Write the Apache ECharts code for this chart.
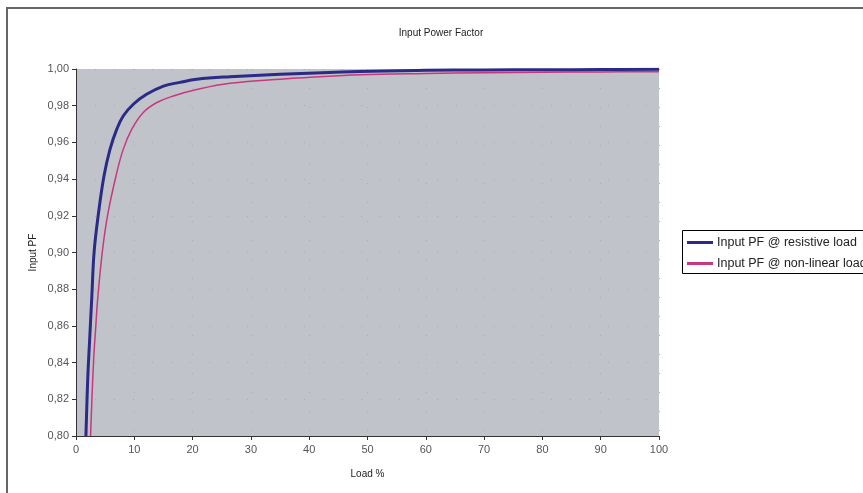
<!DOCTYPE html>
<html><head><meta charset="utf-8">
<script src="https://cdn.jsdelivr.net/npm/echarts@6/dist/echarts.min.js"></script>
<style>html,body{margin:0;padding:0;background:#fff}#c{width:863px;height:493px}</style>
</head><body><div id="c"></div>
<script>
const title = "Input Power Factor";
const xName = "Load %";
const yName = "Input PF";
const seriesNames = ["Input PF @ resistive load", "Input PF @ non-linear load"];
const resistiveLoad = [1.7,2.0,2.3,2.7,3.1,3.8,4.8,5.83,6.98,8.1,9.83,12.1,15,17.8,20.7,26.4,35,48.7,60,70,80,90,100];
const resistivePF   = [0.80,0.83,0.85,0.875,0.90,0.92,0.9417,0.9562,0.9671,0.9744,0.9808,0.9862,0.9907,0.9927,0.9944,0.9958,0.9972,0.9987,0.9993,0.9995,0.9996,0.9997,0.9998];
const nonlinLoad = [2.5,3.0,3.4,3.7,4.5,5.4,6.86,8.1,9.55,11.5,13.8,16.7,20.7,26.4,35,48.7,60,70,80,90,100];
const nonlinPF   = [0.80,0.84,0.86,0.874,0.90,0.92,0.9417,0.9562,0.9671,0.9762,0.9816,0.9853,0.9888,0.9922,0.9944,0.9968,0.9976,0.998,0.9982,0.9984,0.9985];
const xTicks = [0,10,20,30,40,50,60,70,80,90,100];

const zip = (a,b)=>a.map((v,i)=>[v,b[i]]);
const chart = echarts.init(document.getElementById('c'));
chart.setOption({
  animation:false,
  backgroundColor:'#fff',
  textStyle:{fontFamily:'Liberation Sans, Arial, sans-serif'},
  title:{text:title,left:436,textAlign:'center',top:23,textStyle:{fontSize:10,fontWeight:'normal',color:'#222'}},
  graphic:[
    {type:'rect',shape:{x:7,y:8,width:900,height:520},style:{fill:'none',stroke:'#666',lineWidth:2},z:-1},
    {type:'rect',shape:{x:682.5,y:230.5,width:220,height:43},style:{fill:'#fff',stroke:'#000',lineWidth:1},z:0}
  ],
  legend:{left:687,top:236,padding:0,orient:'vertical',itemGap:8,itemWidth:26,itemHeight:3,
    textStyle:{fontSize:12.5,color:'#222',padding:[0,0,0,-1]},
    data:seriesNames.map(n=>({name:n,icon:'rect'})),z:5},
  grid:{left:76,right:204,top:69,bottom:57,show:true,backgroundColor:'#c0c3c9',borderWidth:0},
  xAxis:{type:'value',min:0,max:100,interval:10,name:xName,nameLocation:'middle',nameGap:33,
    nameTextStyle:{fontSize:10,color:'#222'},
    axisLine:{lineStyle:{color:'#333',width:1}},axisTick:{inside:false,length:4,lineStyle:{color:'#333'}},
    axisLabel:{fontSize:11,color:'#555',margin:8,formatter:v=>xTicks.includes(v)?String(v):''},
    splitLine:{show:true,lineStyle:{color:'#a9acb3',type:[1,18],width:1}}},
  yAxis:{type:'value',min:0.80,max:1.00,interval:0.02,name:yName,nameLocation:'middle',nameGap:38,nameMoveOverlap:false,
    nameTextStyle:{fontSize:10,color:'#222'},
    axisLine:{show:true,lineStyle:{color:'#333',width:1}},axisTick:{show:true,length:4,lineStyle:{color:'#333'}},
    axisLabel:{fontSize:11,color:'#555',margin:7,formatter:v=>v.toFixed(2).replace('.',',')},
    splitLine:{show:true,lineStyle:{color:'#a9acb3',type:[1,18],width:1}}},
  series:[
    {name:seriesNames[0],type:'line',smooth:0.4,symbol:'none',data:zip(resistiveLoad,resistivePF),
      lineStyle:{color:'#2b2a86',width:3},itemStyle:{color:'#2b2a86'},z:3},
    {name:seriesNames[1],type:'line',smooth:0.4,symbol:'none',data:zip(nonlinLoad,nonlinPF),
      lineStyle:{color:'#c8377f',width:1.5},itemStyle:{color:'#c8377f'},z:2}
  ]
});
</script></body></html>
